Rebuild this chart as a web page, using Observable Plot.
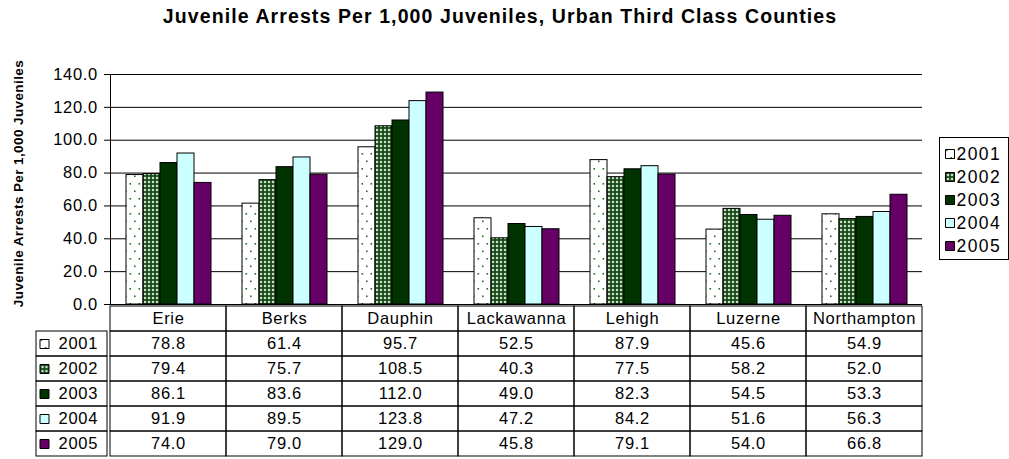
<!DOCTYPE html>
<html>
<head>
<meta charset="utf-8">
<script src="https://cdn.jsdelivr.net/npm/d3@7"></script>
<script src="https://cdn.jsdelivr.net/npm/@observablehq/plot@0.6"></script>
<style>
html, body { margin: 0; padding: 0; background: #fff; }
#wrap { position: relative; width: 1009px; height: 459px; overflow: hidden;
        font-family: "Liberation Sans", Arial, sans-serif; color: #000; background: #fff; }
#wrap svg text { letter-spacing: 0.7px; }
.abs { position: absolute; }
#title { left: 0; top: 5px; width: 1000px; text-align: center; font-weight: bold;
         font-size: 19.5px; letter-spacing: 1.1px; line-height: 22px; white-space: nowrap; }
#ytitle { left: -132.5px; top: 175.5px; width: 300px; height: 15px; line-height: 15px;
          text-align: center; font-weight: bold; font-size: 13.5px; letter-spacing: 0.4px;
          white-space: nowrap; transform: rotate(-90deg); }
#chart { left: 0; top: 0; }
#table { left: 0; top: 303px; }
#legend { left: 939px; top: 137px; width: 68px; height: 121px; border: 1px solid #000; background: #fff; }
#legend svg text { letter-spacing: 1.4px; }
</style>
</head>
<body>
<div id="wrap">
  <div id="title" class="abs">Juvenile Arrests Per 1,000 Juveniles, Urban Third Class Counties</div>
  <div id="ytitle" class="abs">Juvenile Arrests Per 1,000 Juveniles</div>
  <div id="chart" class="abs"></div>
  <div id="table" class="abs"></div>
  <div id="legend" class="abs"></div>
</div>
<script>
// ---- data ----
const counties = ["Erie", "Berks", "Dauphin", "Lackawanna", "Lehigh", "Luzerne", "Northampton"];
const years = ["2001", "2002", "2003", "2004", "2005"];
const values2001 = [78.8, 61.4, 95.7, 52.5, 87.9, 45.6, 54.9];
const values2002 = [79.4, 75.7, 108.5, 40.3, 77.5, 58.2, 52.0];
const values2003 = [86.1, 83.6, 112.0, 49.0, 82.3, 54.5, 53.3];
const values2004 = [91.9, 89.5, 123.8, 47.2, 84.2, 51.6, 56.3];
const values2005 = [74.0, 79.0, 129.0, 45.8, 79.1, 54.0, 66.8];
const yTicks = [0, 20, 40, 60, 80, 100, 120, 140];
const yearFills = ["url(#p2001)", "url(#p2002)", "#003300", "#CCFFFF", "#660066"];

const seriesValues = [values2001, values2002, values2003, values2004, values2005];
const records = years.flatMap((yr, i) => counties.map((c, j) => ({county: c, year: yr, value: seriesValues[i][j]})));
const fmt = d3.format(".1f");
const FONT = "'Liberation Sans', Arial, sans-serif";

// ---- pattern fills ----
const defsSvg = d3.select("#wrap").append("svg")
  .attr("width", 0).attr("height", 0)
  .style("position", "absolute").style("left", "0").style("top", "0");
const defs = defsSvg.append("defs");
const p1 = defs.append("pattern").attr("id", "p2001").attr("patternUnits", "userSpaceOnUse")
  .attr("width", 9).attr("height", 15);
p1.append("rect").attr("width", 9).attr("height", 15).attr("fill", "#ffffff");
p1.append("rect").attr("x", 0.5).attr("y", 3).attr("width", 1.6).attr("height", 1.6).attr("fill", "#2a6a2a");
p1.append("rect").attr("x", 5).attr("y", 10.5).attr("width", 1.6).attr("height", 1.6).attr("fill", "#2a6a2a");
const p2 = defs.append("pattern").attr("id", "p2002").attr("patternUnits", "userSpaceOnUse")
  .attr("width", 4).attr("height", 4);
p2.append("rect").attr("width", 4).attr("height", 4).attr("fill", "#124a12");
p2.append("polygon").attr("points", "2,0.5 3.5,2 2,3.5 0.5,2").attr("fill", "#e6f0e6");

const colorScale = {type: "ordinal", domain: years, range: yearFills};

// ---- chart ----
const chart = Plot.plot({
  width: 1009, height: 310,
  marginTop: 74, marginBottom: 6, marginLeft: 107, marginRight: 84,
  style: {fontFamily: FONT, fontSize: "16.5px", color: "#000", background: "transparent", overflow: "visible"},
  fx: {domain: counties, padding: 0, axis: null, label: null},
  x: {domain: years, paddingInner: 0, paddingOuter: 0.73, axis: null},
  y: {domain: [0, 140], ticks: yTicks, tickFormat: fmt, tickSize: 6, tickPadding: 6.5, label: null, line: true},
  color: colorScale,
  marks: [
    Plot.gridY(yTicks, {stroke: "#000", strokeOpacity: 1, strokeWidth: 1}),
    Plot.barY(records, {fx: "county", x: "year", y: "value", fill: "year", stroke: "#000", strokeWidth: 1, inset: 0})
  ]
});
document.getElementById("chart").appendChild(chart);

// ---- data table ----
const rowKeys = ["county", ...years];
const gridCells = counties.flatMap(c => rowKeys.map(r => ({county: c, row: r})));
const textCells = counties.map(c => ({county: c, row: "county", text: c}))
  .concat(records.map(d => ({county: d.county, row: d.year, text: fmt(d.value)})));
const TABLE_LEFT = 36, M_LEFT = 107, M_RIGHT = 84, W = 1009;
const frameW = W - M_LEFT - M_RIGHT;

const table = Plot.plot({
  width: W, height: 157,
  marginTop: 1, marginBottom: 2, marginLeft: M_LEFT, marginRight: M_RIGHT,
  style: {fontFamily: FONT, fontSize: "16.5px", color: "#000", background: "transparent", overflow: "visible"},
  x: {domain: counties, padding: 0, axis: null},
  y: {type: "band", domain: rowKeys, padding: 0, axis: null},
  color: colorScale,
  marks: [
    Plot.cell(gridCells, {x: "county", y: "row", fill: "none", stroke: "#000", strokeWidth: 1, inset: 0}),
    Plot.cell(years, {y: d => d, fill: "none", stroke: "#000", strokeWidth: 1,
                      insetLeft: -(M_LEFT - TABLE_LEFT), insetRight: frameW, insetTop: 0, insetBottom: 0}),
    Plot.text(textCells, {x: "county", y: "row", text: "text"}),
    Plot.text(years, {y: d => d, text: d => d, frameAnchor: "left", textAnchor: "start", dx: -49}),
    Plot.dot(years, {y: d => d, frameAnchor: "left", dx: -63, symbol: "square", r: 5.08,
                     fill: d => d, stroke: "#000", strokeWidth: 1})
  ]
});
document.getElementById("table").appendChild(table);

// ---- legend ----
const legend = Plot.plot({
  width: 68, height: 121,
  marginTop: 2.5, marginBottom: 0, marginLeft: 0, marginRight: 0,
  style: {fontFamily: FONT, fontSize: "17.5px", color: "#000", background: "transparent", overflow: "visible"},
  y: {type: "band", domain: years, padding: 0, axis: null},
  color: colorScale,
  marks: [
    Plot.dot(years, {y: d => d, frameAnchor: "left", dx: 9.5, symbol: "square", r: 5.08,
                     fill: d => d, stroke: "#000", strokeWidth: 1}),
    Plot.text(years, {y: d => d, text: d => d, frameAnchor: "left", textAnchor: "start", dx: 16})
  ]
});
document.getElementById("legend").appendChild(legend);
</script>
</body>
</html>
